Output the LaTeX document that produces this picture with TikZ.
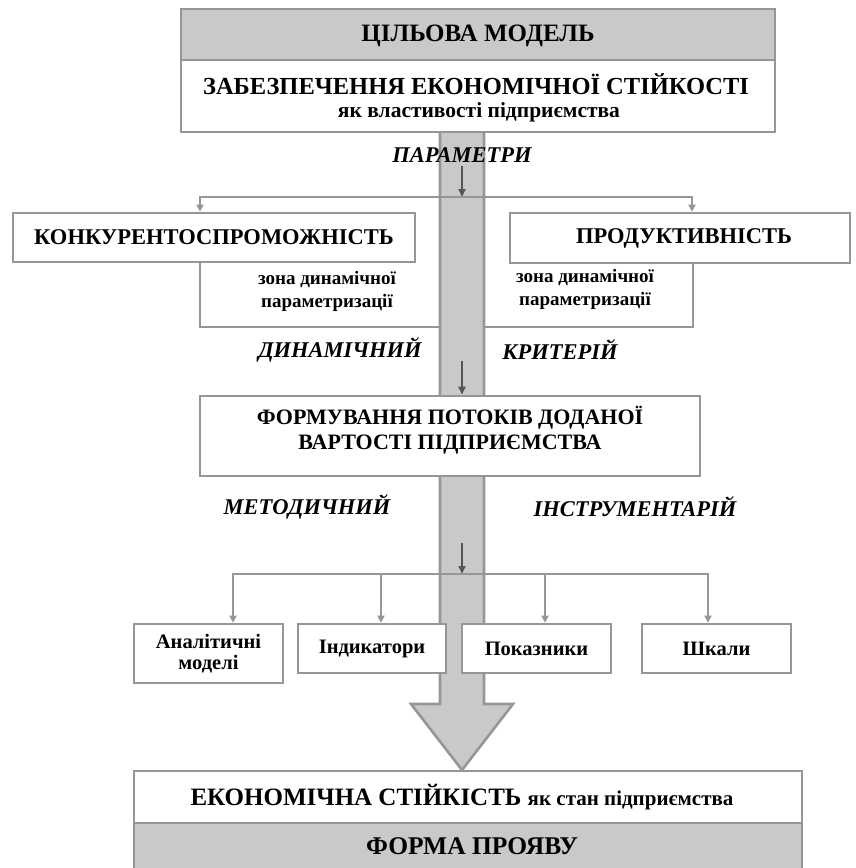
\documentclass[tikz,border=0pt]{standalone}
\usepackage{fontspec}
\setmainfont{Liberation Serif}
\usetikzlibrary{arrows.meta}
\definecolor{bandgray}{RGB}{200,201,203}
\definecolor{linegray}{RGB}{150,150,150}
\definecolor{darkarrow}{RGB}{85,85,85}
\begin{document}
\begin{tikzpicture}[x=1pt,y=-1pt,
  box/.style={draw=linegray, line width=2.6pt, fill=white, inner sep=0pt, align=center, font=\bfseries},
  graybox/.style={box, fill=bandgray},
  txt/.style={inner sep=0pt, align=center},
  conn/.style={draw=linegray, line width=2.4pt, -{Triangle[width=7pt,length=7pt]}},
  smallarrow/.style={draw=darkarrow, line width=2pt, -{Triangle[width=7pt,length=8pt]}},
  zoneline/.style={draw=linegray, line width=2.6pt},
  lbl/.style={inner sep=0pt, font=\fontsize{22.5}{26}\selectfont\bfseries\itshape},
  zone/.style={inner sep=0pt, align=center, font=\fontsize{19}{23}\selectfont\bfseries},
  small/.style={box, font=\fontsize{20.5}{21.5}\selectfont\bfseries}
]
\useasboundingbox (0,0) rectangle (855,868);
% big band arrow
\draw[draw=linegray, line width=2.6pt, fill=bandgray, line join=miter]
  (440,132) -- (440,704) -- (411,704) -- (462,770) -- (513,704) -- (484,704) -- (484,132);
% top block
\node[graybox, minimum width=594pt, minimum height=51pt] (goal) at (478,34.5) {};
\node[txt, font=\fontsize{25}{28}\selectfont\bfseries] (goaltxt) at (478,36) {ЦІЛЬОВА МОДЕЛЬ};
\node[box, minimum width=594pt, minimum height=72pt] (prop) at (478,96) {};
\node[txt, font=\fontsize{24.5}{28}\selectfont\bfseries] (propA) at (476,84) {ЗАБЕЗПЕЧЕННЯ ЕКОНОМІЧНОЇ СТІЙКОСТІ};
\node[txt, font=\fontsize{21.5}{24}\selectfont\bfseries] (propB) at (479,112.5) {як властивості підприємства};
% parameters
\node[lbl] (par) at (462,155) {ПАРАМЕТРИ};
\coordinate (j1) at (462,197);
\draw[smallarrow] ([yshift=31pt]j1) -- (j1);
\node[box, minimum width=402pt, minimum height=49pt, font=\fontsize{22.5}{26}\selectfont\bfseries] (konk) at (214,237.5) {КОНКУРЕНТОСПРОМОЖНІСТЬ};
\node[box, minimum width=340pt, minimum height=50pt, font=\fontsize{22.5}{26}\selectfont\bfseries] (prod) at (680,238) {\hspace*{8pt}ПРОДУКТИВНІСТЬ};
\draw[conn] (j1) -| ([xshift=-14pt]konk.north);
\draw[conn] (j1) -| ([xshift=12pt]prod.north);
% zones
\draw[zoneline] ([xshift=-14pt]konk.south) -- (200,327) -- (440,327);
\draw[zoneline] (484,327) -- (693,327) -- (693,263);
\node[zone] (zl) at (327,291) {зона динамічної\\параметризації};
\node[zone] (zr) at (585,289) {зона динамічної\\параметризації};
% dynamic criterion
\node[lbl] (dyn) at (340,350) {ДИНАМІЧНИЙ};
\node[lbl] (krit) at (560,350) {КРИТЕРІЙ};
\node[box, minimum width=500pt, minimum height=80pt] (form) at (450,436) {};
\node[txt, font=\fontsize{22}{25}\selectfont\bfseries] (formtxt) at (450,430) {ФОРМУВАННЯ ПОТОКІВ ДОДАНОЇ\\ВАРТОСТІ ПІДПРИЄМСТВА};
\draw[smallarrow] ([xshift=12pt,yshift=34pt]form.north) -- ([xshift=12pt]form.north);
% methodical tools
\node[lbl] (met) at (307,507) {МЕТОДИЧНИЙ};
\node[lbl] (instr) at (635,507) {ІНСТРУМЕНТАРІЙ};
\coordinate (j3) at (462,574);
\draw[smallarrow] ([yshift=31pt]j3) -- (j3);
\node[small, minimum width=149pt, minimum height=59pt] (anal) at (208.5,653.5) {Аналітичні\\моделі};
\node[small, minimum width=148pt, minimum height=49pt] (ind) at (372,648.5) {Індикатори};
\node[small, minimum width=149pt, minimum height=49pt] (pok) at (536.5,648.5) {Показники};
\node[small, minimum width=149pt, minimum height=49pt] (shk) at (716.5,648.5) {Шкали};
\draw[conn] (j3) -| ([xshift=24.5pt]anal.north);
\draw[conn] (j3) -| ([xshift=9pt]ind.north);
\draw[conn] (j3) -| ([xshift=8.5pt]pok.north);
\draw[conn] (j3) -| ([xshift=-8.5pt]shk.north);
% bottom block
\node[box, minimum width=668pt, minimum height=52pt] (state) at (468,797) {};
\node[txt, font=\bfseries] (statetxt) at (462,797) {{\fontsize{25}{28}\selectfont ЕКОНОМІЧНА СТІЙКІСТЬ\ }{\fontsize{21}{24}\selectfont як стан підприємства}};
\node[graybox, minimum width=668pt, minimum height=50pt] (form2) at (468,848) {};
\node[txt, font=\fontsize{25.5}{28}\selectfont\bfseries] (form2txt) at (472,846) {ФОРМА ПРОЯВУ};
\end{tikzpicture}
\end{document}
